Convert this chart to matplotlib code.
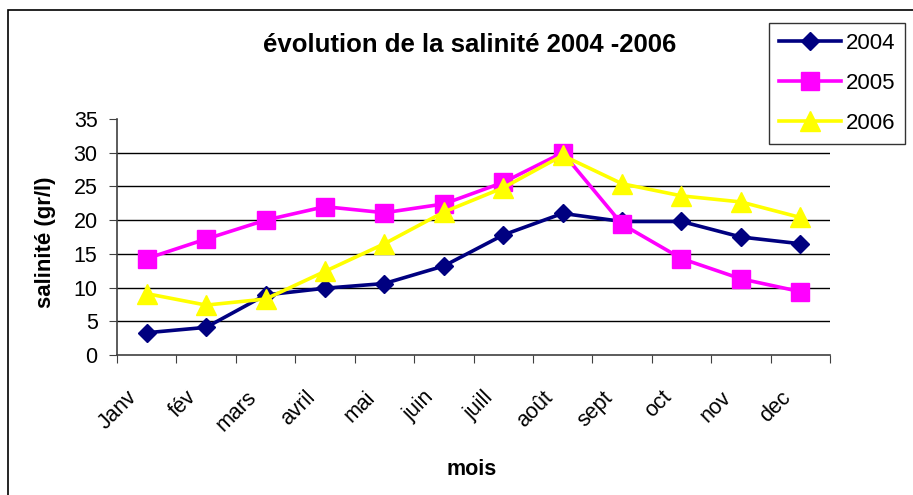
import matplotlib
matplotlib.use("Agg")
import matplotlib.pyplot as plt
import matplotlib.transforms as mtransforms
from matplotlib.patches import Rectangle

# Monthly salinity readings (gr/l)
mois = ["Janv", "fév", "mars", "avril", "mai", "juin", "juill", "août",
        "sept", "oct", "nov", "dec"]
sal_2004 = [3.3, 4.1, 8.9, 9.9, 10.6, 13.2, 17.8, 21.0, 19.8, 19.8, 17.5, 16.5]
sal_2005 = [14.3, 17.2, 20.0, 22.0, 21.1, 22.4, 25.6, 30.0, 19.4, 14.3, 11.3, 9.4]
sal_2006 = [9.1, 7.4, 8.3, 12.4, 16.5, 21.2, 24.8, 29.6, 25.4, 23.6, 22.7, 20.4]

plt.rcParams['font.family'] = ['Liberation Sans', 'DejaVu Sans']

fig = plt.figure(figsize=(9.13, 4.95), dpi=100)
ax = fig.add_axes([117 / 913, 1 - 355 / 495, 713 / 913, 236 / 495])

# outer frame of the chart area (Excel style)
fig.patches.append(Rectangle((8 / 913, -0.1), 1.2, 1 - 10 / 495 + 0.1,
                             transform=fig.transFigure, fill=False,
                             edgecolor="black", linewidth=1.2))

x = [i + 0.5 for i in range(len(mois))]
ax.plot(x, sal_2004, color="#000080", linewidth=2.6, marker="D",
        markersize=9.5, label="2004", zorder=3)
ax.plot(x, sal_2005, color="#FF00FF", linewidth=2.6, marker="s",
        markersize=12.5, label="2005", zorder=4)
ax.plot(x, sal_2006, color="#FFFF00", linewidth=2.6, marker="^",
        markersize=14.5, label="2006", zorder=5)

ax.set_xlim(0, len(mois))
ax.set_ylim(0, 35)
ax.set_yticks(range(0, 36, 5))
for v in range(5, 35, 5):
    ax.axhline(v, color="black", linewidth=1, zorder=1)

ax.set_xticks(range(len(mois) + 1))
ax.set_xticklabels([])
ax.set_xticks(x, minor=True)
ax.set_xticklabels(mois, minor=True, rotation=45, ha="right",
                   rotation_mode="anchor", fontsize=15.5)
ax.tick_params(axis="x", which="minor", length=0, pad=23)
ax.tick_params(axis="x", which="major", length=6, color="#404040")
ax.tick_params(axis="y", labelsize=15.5, length=6, color="#404040", pad=8)

# shift rotated month labels a little to the left, as Excel does
shift = mtransforms.ScaledTranslation(-20 / 100, 0, fig.dpi_scale_trans)
for lab in ax.get_xticklabels(minor=True):
    lab.set_transform(lab.get_transform() + shift)

for side in ["top", "right"]:
    ax.spines[side].set_visible(False)
for side in ["left", "bottom"]:
    ax.spines[side].set_color("#404040")
    ax.spines[side].set_linewidth(1.2)

ax.set_xlabel("mois", fontsize=15.5, fontweight="bold")
ax.xaxis.set_label_coords((472 - 117) / 713, (355 - 459) / 236)
ax.set_ylabel("salinité (gr/l)", fontsize=16, fontweight="bold")
ax.yaxis.set_label_coords((56 - 117) / 713, (355 - 242) / 236)

fig.text(470 / 913, 1 - 45 / 495, "évolution de la salinité 2004 -2006",
         fontsize=18.5, fontweight="bold", ha="center", va="center")

leg = ax.legend(loc="upper left", bbox_to_anchor=(769 / 913, 1 - 23 / 495),
                bbox_transform=fig.transFigure, fontsize=16, frameon=True,
                fancybox=False, edgecolor="black", handlelength=2.8,
                borderpad=0.45, labelspacing=0.85, handletextpad=0.2,
                borderaxespad=0)
leg.get_frame().set_linewidth(1)

fig.savefig("out.png", dpi=100)
